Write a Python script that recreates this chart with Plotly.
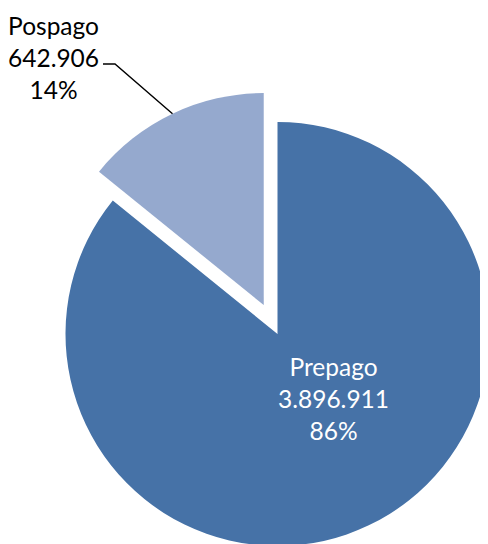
import math
import plotly.graph_objects as go

# ---- data ----
labels = ["Prepago", "Pospago"]
values = [3896911, 642906]
colors = ["#4672A7", "#95A9CE"]

# ---- layout constants (pixels, figure coordinates; page body adds 8px offset) ----
W, H = 488, 544
CX, CY = 269.5, 326    # pie centre
R = 212                # pie radius
PULL = 32              # pull-out distance for the small slice
FONT = "Lato"
FS = 24.5

total = sum(values)
fracs = [v / total for v in values]

def fmt(v):
    return f"{v:,}".replace(",", ".")

def px_dom(cx, cy, r):
    return dict(x=[(cx - r) / W, (cx + r) / W],
                y=[1 - (cy + r) / H, 1 - (cy - r) / H])

# mid angle (clockwise from 12 o'clock) of each slice
mids = []
start = 0.0
for f in fracs:
    mids.append(start + f * 180.0)
    start += f * 360.0

m = math.radians(mids[1])
dx, dy = PULL * math.sin(m), -PULL * math.cos(m)

fig = go.Figure()
# main slice (Prepago); the other slice is transparent here
fig.add_trace(go.Pie(
    labels=labels, values=values, sort=False, direction="clockwise", rotation=0,
    marker=dict(colors=[colors[0], "rgba(0,0,0,0)"], line=dict(width=0)),
    textinfo="none", domain=px_dom(CX, CY, R), showlegend=False,
    hoverinfo="label+value+percent"))
# pulled-out slice (Pospago)
fig.add_trace(go.Pie(
    labels=labels, values=values, sort=False, direction="clockwise", rotation=0,
    marker=dict(colors=["rgba(0,0,0,0)", colors[1]], line=dict(width=0)),
    textinfo="none", domain=px_dom(CX + dx, CY + dy, R), showlegend=False,
    hoverinfo="label+value+percent"))

def paper(x, y):
    return x / W, 1 - y / H

# inside label for Prepago
tx, ty = paper(325, 390)
fig.add_annotation(x=tx, y=ty, xref="paper", yref="paper", showarrow=False,
                   xanchor="center", yanchor="middle",
                   text=f"{labels[0]}<br>{fmt(values[0])}<br>{round(fracs[0]*100)}%",
                   font=dict(family=FONT, size=FS, color="white"), align="center")

# outside label for Pospago
lx, ly = paper(45, 49)
fig.add_annotation(x=lx, y=ly, xref="paper", yref="paper", showarrow=False,
                   xanchor="center", yanchor="middle",
                   text=f"{labels[1]}<br>{fmt(values[1])}<br>{round(fracs[1]*100)}%",
                   font=dict(family=FONT, size=FS, color="black"), align="center")

# leader line to the outer edge of the pulled slice
ex = CX + dx + R * math.sin(m)
ey = CY + dy - R * math.cos(m)
p0 = paper(95, 56)
p1 = paper(107, 56)
p2 = paper(ex, ey)
fig.add_shape(type="path", xref="paper", yref="paper",
              path=f"M {p0[0]},{p0[1]} L {p1[0]},{p1[1]} L {p2[0]},{p2[1]}",
              line=dict(color="black", width=1.4))

fig.update_layout(width=W, height=H, margin=dict(l=0, r=0, t=0, b=0),
                  paper_bgcolor="white", plot_bgcolor="white", showlegend=False)

fig.write_html("out.html")
